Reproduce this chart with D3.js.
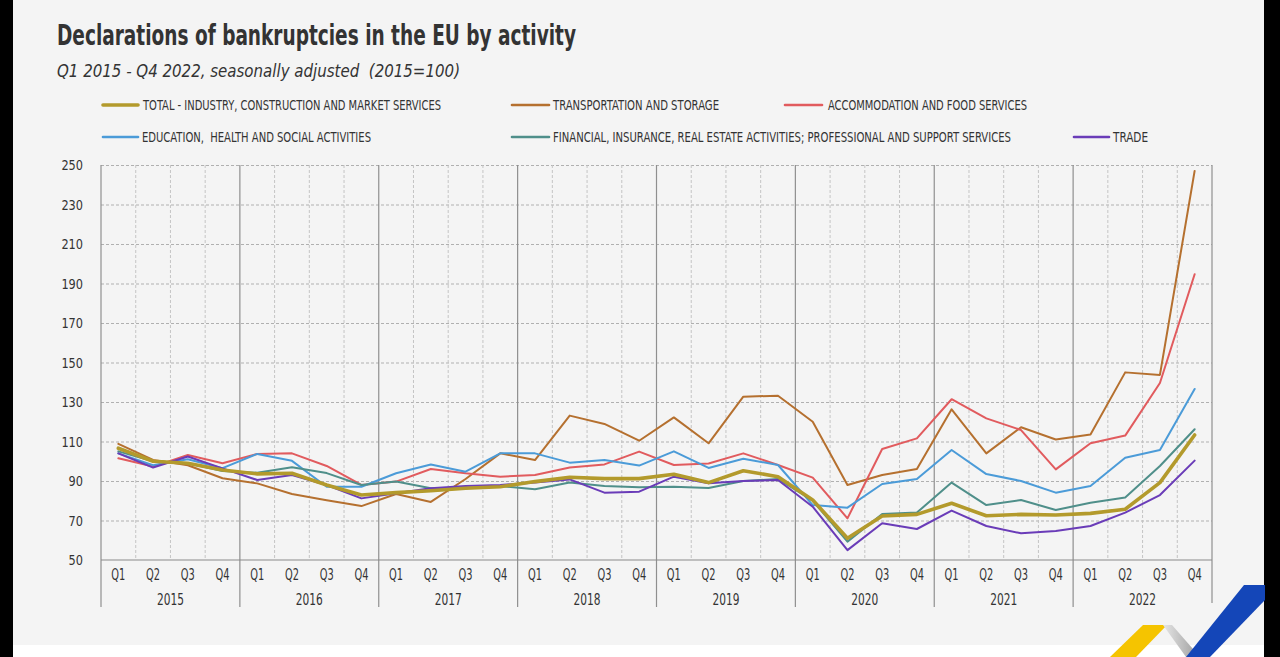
<!DOCTYPE html>
<html><head><meta charset="utf-8">
<script src="https://cdn.jsdelivr.net/npm/d3@7"></script>
<style>
html,body{margin:0;padding:0;background:#000;}
svg{display:block;}
text{font-family:"DejaVu Sans Condensed","DejaVu Sans",sans-serif;font-stretch:condensed;fill:#333;white-space:pre;}
</style></head>
<body>
<svg id="c" width="1280" height="657"></svg>
<script>
const years = ["2015","2016","2017","2018","2019","2020","2021","2022"];
const quarterLabels = ["Q1","Q2","Q3","Q4"];
const yTicks = [50,70,90,110,130,150,170,190,210,230,250];

const seriesNames = [
  "TOTAL - INDUSTRY, CONSTRUCTION AND MARKET SERVICES",
  "TRANSPORTATION AND STORAGE",
  "ACCOMMODATION AND FOOD SERVICES",
  "EDUCATION,  HEALTH AND SOCIAL ACTIVITIES",
  "FINANCIAL, INSURANCE, REAL ESTATE ACTIVITIES; PROFESSIONAL AND SUPPORT SERVICES",
  "TRADE"
];
const total = [106.6,100,99,95.6, 93.6,93.9,88,82.9, 84.1,85.1,86.3,87.1, 89.7,91.9,91.2,91.2, 93.4,89.2,95.2,92.2, 80.4,61,72.3,73.1, 78.7,72.4,73.1,72.8, 73.6,75.7,89.2,113.3];
const transport = [108.8,100.7,98,91.4, 88.8,83.4,80.3,77.3, 83.4,79.4,91,104, 100.6,123.1,118.9,110.4, 122.2,109.1,132.7,133.2, 120,88,93,96.1, 126.3,104,117.2,111, 113.6,145,143.7,247];
const accommodation = [101.5,97.3,103.2,99, 103.7,104,97.6,88, 89.7,96.1,93.9,92.2, 93,96.8,98.4,104.9, 98.1,98.9,104,98.1, 91.7,71.1,106.2,111.6, 131.4,121.7,115.8,95.9, 109.1,113,139.6,194.7];
const education = [104,98,101,96.5, 103.7,100.2,87.1,87.1, 93.9,98.4,94.7,104, 104,99.3,100.6,97.8, 105,96.6,101.3,98.1, 77.8,76.5,88.5,91, 105.7,93.5,90,84.1, 87.5,101.8,105.7,136.6];
const financial = [105,100,99,95, 94.2,97,94,88, 89.7,86.3,86.3,87.5, 85.8,89.2,87.5,86.8, 87.1,86.5,90,91, 80,59.3,73.3,74, 89.2,77.8,80.4,75.3, 79,81.7,97.6,116.2];
const trade = [104,96.8,102.4,96.4, 90.5,93,88,81.2, 83.8,86.3,87.5,88, 89.2,90.8,84.1,84.6, 92.2,88.8,90,90.5, 77,55,68.6,65.7, 75,67.2,63.5,64.7, 67.2,74,82.9,100.3];

const seriesValues = [total, transport, accommodation, education, financial, trade];
const colors = ["#b39a2c","#b5702f","#e15b5e","#4b9bd8","#4f8f8a","#6a3cb8"];
const widths = [3.6,2,2,2,2,2];

const svg = d3.select("#c");
svg.append("rect").attr("x",13).attr("y",0).attr("width",1251).attr("height",645).attr("fill","#f4f4f4");
svg.append("rect").attr("x",13).attr("y",645).attr("width",1251).attr("height",12).attr("fill","#ffffff");

const pL=101, pR=1212, pT=165, pB=560;
const quarters = d3.range(years.length*4);
const x = d3.scaleBand().domain(quarters).range([pL,pR]);
const xYear = d3.scaleBand().domain(years).range([pL,pR]);
const y = d3.scaleLinear().domain([50,250]).range([pB,pT]);
const fontFam = '"DejaVu Sans Condensed","DejaVu Sans",sans-serif';

// horizontal grid
const gy = svg.append("g").attr("transform",`translate(${pL},0)`)
  .call(d3.axisLeft(y).tickValues(yTicks.filter(v=>v>50)).tickSize(-(pR-pL)).tickFormat(""));
gy.select(".domain").remove();
gy.selectAll("line").attr("stroke","#b0b0b0").attr("stroke-dasharray","3,2").attr("stroke-width",1);

// quarter dotted lines
svg.append("g").selectAll("line").data(quarters.filter(q=>q%4!==0)).join("line")
  .attr("x1",q=>x(q)).attr("x2",q=>x(q)).attr("y1",pT).attr("y2",pB)
  .attr("stroke","#c4c4c4").attr("stroke-dasharray","3,2").attr("stroke-width",1);

// year separators
svg.append("g").selectAll("line").data(years).join("line")
  .attr("x1",d=>xYear(d)).attr("x2",d=>xYear(d)).attr("y1",pT).attr("y2",607)
  .attr("stroke","#8f8f8f").attr("stroke-width",1.2);
svg.append("line").attr("x1",pR).attr("x2",pR).attr("y1",pT).attr("y2",603)
  .attr("stroke","#8f8f8f").attr("stroke-width",1.2);
svg.append("line").attr("x1",pL).attr("x2",pR).attr("y1",pB).attr("y2",pB)
  .attr("stroke","#8a8a8a").attr("stroke-width",1.2);

function styleText(sel, size){
  sel.attr("font-size",size).attr("fill","#333")
    .style("font-family",fontFam).style("font-stretch","condensed");
}

// y labels
const ya = svg.append("g").attr("transform",`translate(83,0)`)
  .call(d3.axisLeft(y).tickValues(yTicks).tickSize(0).tickPadding(0).tickFormat(d3.format("d")));
ya.select(".domain").remove();
styleText(ya.selectAll("text"),14.5);
ya.selectAll("text").attr("textLength",d=>String(d).length*7.2).attr("lengthAdjust","spacingAndGlyphs");

// quarter labels
const xa = svg.append("g").attr("transform",`translate(0,${pB})`)
  .call(d3.axisBottom(x).tickSize(0).tickPadding(9).tickFormat(q=>quarterLabels[q%4]));
xa.select(".domain").remove();
styleText(xa.selectAll("text"),15);
xa.selectAll("text").attr("textLength",14).attr("lengthAdjust","spacingAndGlyphs");

// year labels
const yra = svg.append("g").attr("transform",`translate(0,594)`)
  .call(d3.axisBottom(xYear).tickSize(0).tickPadding(0));
yra.select(".domain").remove();
styleText(yra.selectAll("text"),15);
yra.selectAll("text").attr("textLength",27).attr("lengthAdjust","spacingAndGlyphs");

// lines
const line = d3.line().x((d,i)=>x(i)+x.bandwidth()/2).y(d=>y(d));
const order = [1,2,3,4,5,0];
svg.append("g").selectAll("path").data(order).join("path")
  .attr("d",k=>line(seriesValues[k]))
  .attr("fill","none").attr("stroke",k=>colors[k]).attr("stroke-width",k=>widths[k])
  .attr("stroke-linejoin","round").attr("stroke-linecap","round");

// title
svg.append("text").attr("x",57).attr("y",45).attr("font-size",29).attr("font-weight","bold")
  .attr("fill","#2b2b2b").attr("textLength",519).attr("lengthAdjust","spacingAndGlyphs")
  .text("Declarations of bankruptcies in the EU by activity");
svg.append("text").attr("x",57).attr("y",77).attr("font-size",17.5).attr("font-style","italic")
  .attr("fill","#333").attr("textLength",403).attr("lengthAdjust","spacingAndGlyphs")
  .text("Q1 2015 - Q4 2022, seasonally adjusted  (2015=100)");

// legend
const legendPos = [
  {x1:103,x2:138,tx:143,y:105,w:298},
  {x1:512,x2:549,tx:553,y:105,w:166},
  {x1:785,x2:822,tx:828,y:105,w:199},
  {x1:103,x2:138,tx:142,y:137,w:229},
  {x1:512,x2:549,tx:553,y:137,w:458},
  {x1:1074,x2:1109,tx:1113,y:137,w:35}
];
const lg = svg.append("g").selectAll("g").data(seriesNames).join("g");
lg.append("line").attr("x1",(d,i)=>legendPos[i].x1).attr("x2",(d,i)=>legendPos[i].x2)
  .attr("y1",(d,i)=>legendPos[i].y).attr("y2",(d,i)=>legendPos[i].y)
  .attr("stroke",(d,i)=>colors[i]).attr("stroke-width",(d,i)=>i===0?3.6:2.6).attr("stroke-linecap","round");
lg.append("text").attr("x",(d,i)=>legendPos[i].tx).attr("y",(d,i)=>legendPos[i].y+5)
  .attr("font-size",13.5).attr("fill","#333")
  .attr("textLength",(d,i)=>legendPos[i].w).attr("lengthAdjust","spacingAndGlyphs")
  .text(d=>d);

// logo decoration
const grad = svg.append("defs").append("linearGradient").attr("id","gg").attr("x1","0").attr("x2","1");
grad.append("stop").attr("offset","0").attr("stop-color","#e6e6e6");
grad.append("stop").attr("offset","1").attr("stop-color","#9a9a9a");
svg.append("polygon").attr("points","1110,657 1143,625 1167,625 1136,657").attr("fill","#f5c400");
svg.append("polygon").attr("points","1163,625 1172,625 1200,657 1186,657").attr("fill","url(#gg)");
svg.append("polygon").attr("points","1186,657 1244,585 1265,585 1265,600 1210,657").attr("fill","#1446b8");
</script>
</body></html>
